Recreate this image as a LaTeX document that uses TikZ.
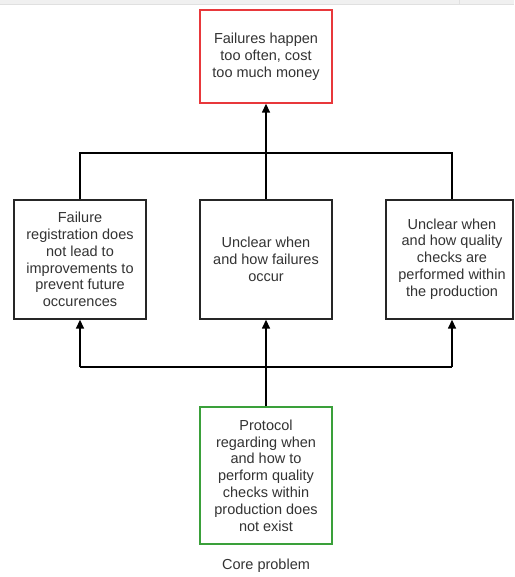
\documentclass[tikz,border=0pt]{standalone}
\usepackage{fontspec}
\setmainfont{Liberation Sans}
\usetikzlibrary{arrows.meta}
\definecolor{txt}{HTML}{333333}
\definecolor{redb}{HTML}{E8383B}
\definecolor{greenb}{HTML}{3AA03A}
\begin{document}
\begin{tikzpicture}[x=1pt,y=-1pt,
  box/.style={draw=black!85,line width=1.4pt,fill=white,minimum width=132pt,inner sep=0pt,
    text=txt,align=center,font=\fontsize{14.5}{16.8}\selectfont},
  lbl/.style={text=txt,align=center,font=\fontsize{14.5}{16.8}\selectfont,inner sep=0pt},
  conn/.style={line width=1.5pt,black},
  arr/.style={conn,-{Triangle[length=9pt,width=8pt]}}]
\useasboundingbox (0,0) rectangle (514,577);
\fill[black!6] (0,0) rectangle (514,4);
\draw[black!12,line width=0.6pt] (0,4.5) -- (514,4.5);
\draw[black!12,line width=0.6pt] (459,0) -- (459,4.5);
% top
\node[box,draw=redb,minimum height=93pt] (top) at (266,56.5) {Failures happen\\too often, cost\\too much money};
% middle
\node[box,minimum height=119pt] (l) at (80,259.5) {Failure\\registration does\\not lead to\\improvements to\\prevent future\\occurences};
\node[box,minimum height=119pt] (c) at (266,259.5) {Unclear when\\and how failures\\occur};
\node[box,minimum width=127pt,minimum height=119pt] (r) at (449.5,259.5) {};
\node[lbl] (rt) at (452,259) {Unclear when\\and how quality\\checks are\\performed within\\the production};
% bottom
\node[box,draw=greenb,minimum height=137pt] (b) at (266,475.5) {Protocol\\regarding when\\and how to\\perform quality\\checks within\\production does\\not exist};
\node[lbl] (core) at (266,566) {Core problem};
% upper connectors
\coordinate (ul) at (80,153);
\coordinate (ur) at (452,153);
\draw[conn] (l.north) -- (ul) -- (ur) -- (ur |- r.north);
\draw[arr] (c.north) -- (top.south);
% lower connectors
\coordinate (bl) at (80,367);
\coordinate (br) at (452,367);
\draw[arr] (b.north) -- (c.south);
\draw[arr] (bl) -- (l.south);
\draw[arr] (br) -- (br |- r.south);
\draw[conn] (bl) -- (br);
\end{tikzpicture}
\end{document}
